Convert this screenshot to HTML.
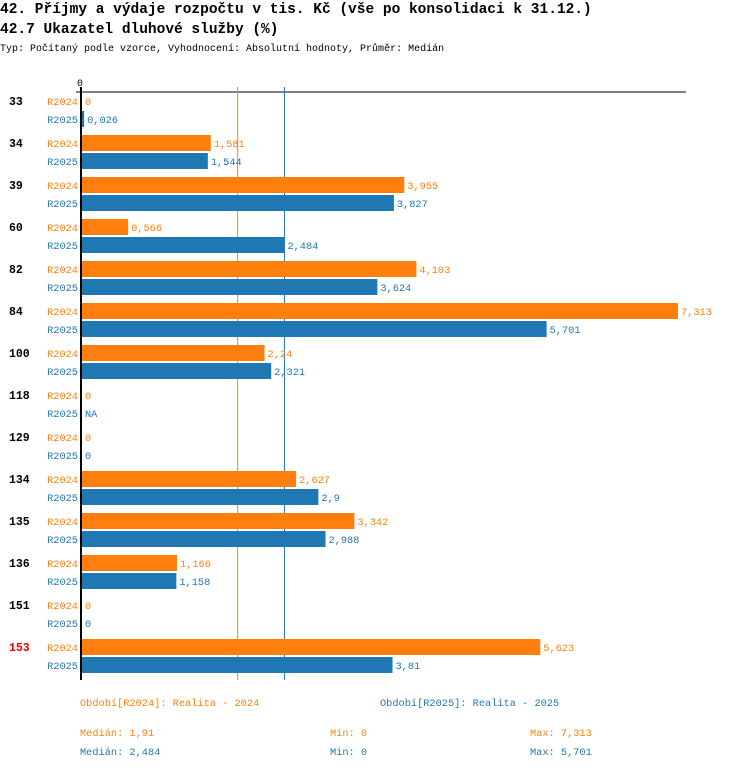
<!DOCTYPE html>
<html><head><meta charset="utf-8"><style>
body{margin:0;background:#fff;width:750px;height:770px;overflow:hidden;font-family:"Liberation Mono","DejaVu Sans Mono",monospace;}
.t{position:absolute;white-space:nowrap;}
</style></head><body>
<div class="t" style="left:0;top:2px;font-size:14.5px;font-weight:bold;">42. Příjmy a výdaje rozpočtu v tis. Kč (vše po konsolidaci k 31.12.)</div>
<div class="t" style="left:0;top:22px;font-size:14.5px;font-weight:bold;">42.7 Ukazatel dluhové služby (%)</div>
<div class="t" style="left:0;top:44px;font-size:10px;">Typ: Počítaný podle vzorce, Vyhodnocení: Absolutní hodnoty, Průměr: Medián</div>
<svg id="c" width="750" height="770" style="position:absolute;left:0;top:0"></svg>
<script>
const categories=["33","34","39","60","82","84","100","118","129","134","135","136","151","153"];
const values2024=[0,1.581,3.955,0.566,4.103,7.313,2.24,0,0,2.627,3.342,1.166,0,5.623];
const values2025=[0.026,1.544,3.827,2.484,3.624,5.701,2.321,null,0,2.9,2.988,1.158,0,3.81];
const labels2024=["0","1,581","3,955","0,566","4,103","7,313","2,24","0","0","2,627","3,342","1,166","0","5,623"];
const labels2025=["0,026","1,544","3,827","2,484","3,624","5,701","2,321","NA","0","2,9","2,988","1,158","0","3,81"];
const median2024=1.91, median2025=2.484;
const highlighted=["153"];
const O="#ff7f0e",B="#1f77b4",NS="http://www.w3.org/2000/svg";
const svg=document.getElementById('c');
const x=v=>82+v*81.5;
const y=(i,s)=>101+42*i+(s?18:0);
function mk(t,a,txt){const e=document.createElementNS(NS,t);for(const k in a)e.setAttribute(k,a[k]);if(txt!=null)e.textContent=txt;svg.appendChild(e);return e;}
let e;
e=mk('line',{x1:76,y1:92,x2:686,y2:92,stroke:'#000','stroke-width':1});


e=mk('text',{x:80,y:86,'font-size':10,'text-anchor':'middle','font-family':'Liberation Mono,monospace'},'0');


e=mk('line',{x1:x(median2024),y1:87,x2:x(median2024),y2:680,stroke:O,'stroke-width':1});


e=mk('line',{x1:x(median2025),y1:87,x2:x(median2025),y2:680,stroke:B,'stroke-width':1});


categories.forEach((c,i)=>{
  e=mk('text',{x:9,y:y(i,0)+4,'font-size':11.5,'font-weight':'bold',fill:highlighted.includes(c)?'#e00':'#000','font-family':'Liberation Mono,monospace'},c);
  
  
  [[values2024,labels2024,O,'R2024'],[values2025,labels2025,B,'R2025']].forEach(([vals,lbs,col,nm],s)=>{
    const yc=y(i,s),v=vals[i]||0;
    e=mk('text',{x:78,y:yc+4,'font-size':10.3,fill:col,'text-anchor':'end','font-family':'Liberation Mono,monospace'},nm);
    
    
    if(v>0){
      e=mk('rect',{x:82,y:yc-8,width:x(v)-82,height:16,fill:col});
      
      
    }
    e=mk('text',{x:x(v)+3,y:yc+4,'font-size':10.3,fill:col,'font-family':'Liberation Mono,monospace'},lbs[i]);
    
    
  });
});
e=mk('line',{x1:81,y1:87,x2:81,y2:680,stroke:'#000','stroke-width':2});


const foot=[[80,706,O,'Období[R2024]: Realita - 2024'],[380,706,B,'Období[R2025]: Realita - 2025'],
[80,736,O,'Medián: 1,91'],[330,736,O,'Min: 0'],[530,736,O,'Max: 7,313'],
[80,755,B,'Medián: 2,484'],[330,755,B,'Min: 0'],[530,755,B,'Max: 5,701']];
foot.forEach((f,k)=>{
  e=mk('text',{x:f[0],y:f[1],'font-size':10.3,fill:f[2],'font-family':'Liberation Mono,monospace'},f[3]);
  
  
});
</script>
</body></html>
